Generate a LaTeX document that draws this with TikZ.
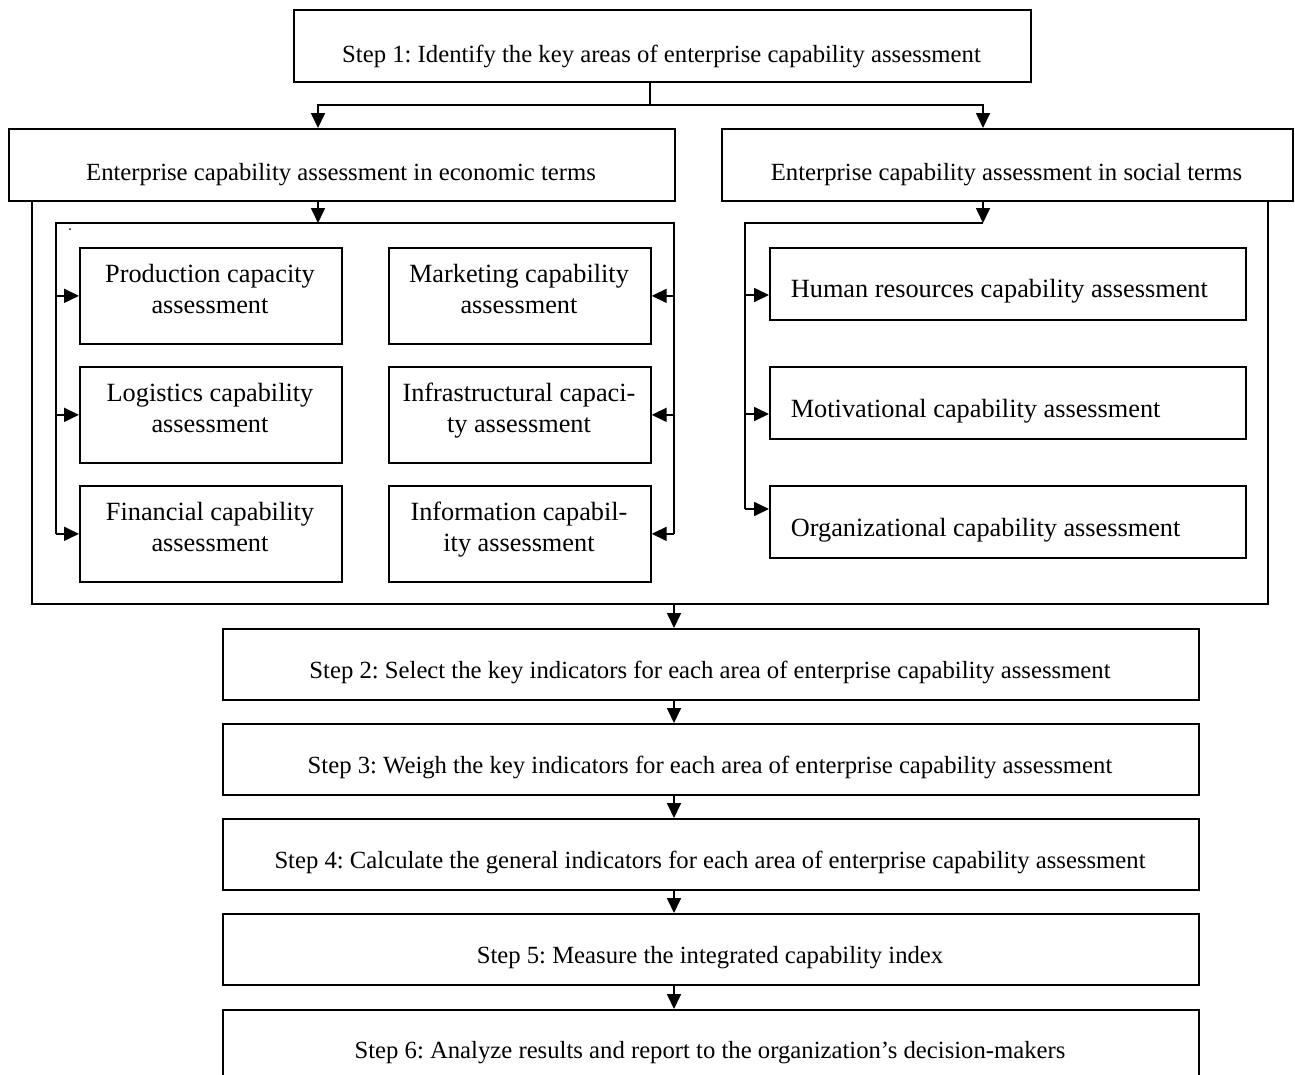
\documentclass[tikz,border=0pt]{standalone}
\usepackage{fontspec}
\setmainfont{Liberation Serif}
\usetikzlibrary{arrows.meta}
\frenchspacing
\begin{document}
\begin{tikzpicture}[x=1pt,y=-1pt,line width=1.7pt,
  box/.style={draw,rectangle,inner sep=0pt,anchor=north west},
  arr/.style={-{Triangle[length=15pt,width=14pt]}},
  hd/.style={font=\fontsize{24.7}{29}\selectfont,anchor=base,inner sep=0pt},
  bx/.style={font=\fontsize{26.3}{31}\selectfont,anchor=base,inner sep=0pt,align=center},
  sx/.style={font=\fontsize{26.3}{31}\selectfont,anchor=base west,inner sep=0pt}]
\useasboundingbox (0,0) rectangle (1295,1074);
\clip (0,0) rectangle (1295,1074);
% top level
\node[box,minimum width=737,minimum height=72] (s1) at (293,9) {};
\node[hd] (s1t) at (661.5,62) {Step 1: Identify the key areas of enterprise capability assessment};
\node[box,minimum width=666,minimum height=72] (econ) at (8,128) {};
\node[hd] (econt) at (341,180) {Enterprise capability assessment in economic terms};
\node[box,minimum width=571,minimum height=72] (soc) at (721,128) {};
\node[hd] (soct) at (1006.5,180) {Enterprise capability assessment in social terms};
% economic boxes
\node[box,minimum width=262,minimum height=96] (b11) at (79,247) {};
\node[box,minimum width=262,minimum height=96] (b21) at (79,366) {};
\node[box,minimum width=262,minimum height=96] (b31) at (79,485) {};
\node[box,minimum width=262,minimum height=96] (b12) at (388,247) {};
\node[box,minimum width=262,minimum height=96] (b22) at (388,366) {};
\node[box,minimum width=262,minimum height=96] (b32) at (388,485) {};
\node[bx] (b11t) at (210,313) {Production capacity\\assessment};
\node[bx] (b21t) at (210,432) {Logistics capability\\assessment};
\node[bx] (b31t) at (210,551) {Financial capability\\assessment};
\node[bx] (b12t) at (519,313) {Marketing capability\\assessment};
\node[bx] (b22t) at (519,432) {Infrastructural capaci-\\ty assessment};
\node[bx] (b32t) at (519,551) {Information capabil-\\ity assessment};
% social boxes
\node[box,minimum width=476,minimum height=72] (h1) at (769,247) {};
\node[box,minimum width=476,minimum height=72] (h2) at (769,366) {};
\node[box,minimum width=476,minimum height=72] (h3) at (769,485) {};
\node[sx] (h1t) at (790,297) {Human resources capability assessment};
\node[sx] (h2t) at (790,417) {Motivational capability assessment};
\node[sx] (h3t) at (790,536) {Organizational capability assessment};
% steps
\node[box,minimum width=976,minimum height=71] (st2) at (222,628) {};
\node[box,minimum width=976,minimum height=71] (st3) at (222,723) {};
\node[box,minimum width=976,minimum height=71] (st4) at (222,818) {};
\node[box,minimum width=976,minimum height=71] (st5) at (222,913) {};
\node[box,minimum width=976,minimum height=71] (st6) at (222,1009) {};
\node[hd] (st2t) at (710,678) {Step 2: Select the key indicators for each area of enterprise capability assessment};
\node[hd] (st3t) at (710,773) {Step 3: Weigh the key indicators for each area of enterprise capability assessment};
\node[hd] (st4t) at (710,868) {Step 4: Calculate the general indicators for each area of enterprise capability assessment};
\node[hd] (st5t) at (710,963) {Step 5: Measure the integrated capability index};
\node[hd] (st6t) at (710,1058) {Step 6: Analyze results and report to the organization’s decision-makers};
% coordinates
\coordinate (c1) at (650,105);
\coordinate (eX) at (318,223);
\coordinate (sX) at (983,223);
\coordinate (busL) at (56,223);
\coordinate (busR) at (674,223);
\coordinate (sbus) at (745,223);
\coordinate (oL) at (32,604);
\coordinate (oR) at (1268,604);
\coordinate (oM) at (674,604);
\coordinate (sa1) at (745,295);
\coordinate (sa2) at (745,414);
\coordinate (sa3) at (745,509);
% connectors top
\draw (s1.south -| c1) -- (c1);
\draw[arr] (c1) -| (econ.north -| eX);
\draw[arr] (c1) -| (soc.north -| sX);
% economic bus
\draw[arr] (econ.south -| eX) -- (eX);
\draw (b31.west -| busL) -- (busL) -- (busR) -- (b32.east -| busR);
\draw[arr] (b11.west -| busL) -- (b11.west);
\draw[arr] (b21.west -| busL) -- (b21.west);
\draw[arr] (b31.west -| busL) -- (b31.west);
\draw[arr] (b12.east -| busR) -- (b12.east);
\draw[arr] (b22.east -| busR) -- (b22.east);
\draw[arr] (b32.east -| busR) -- (b32.east);
\fill (70,229) circle (1pt);
% social bus
\draw[arr] (soc.south -| sX) -- (sX);
\draw (sX) -- (sbus) -- (sa3);
\draw[arr] (sa1) -- (sa1 -| h1.west);
\draw[arr] (sa2) -- (sa2 -| h2.west);
\draw[arr] (sa3) -- (sa3 -| h3.west);
% outer frame
\draw (econ.south -| oL) -- (oL) -- (oR) -- (soc.south -| oR);
% steps
\draw[arr] (oM) -- (st2.north -| oM);
\draw[arr] (st2.south -| oM) -- (st3.north -| oM);
\draw[arr] (st3.south -| oM) -- (st4.north -| oM);
\draw[arr] (st4.south -| oM) -- (st5.north -| oM);
\draw[arr] (st5.south -| oM) -- (st6.north -| oM);
\end{tikzpicture}
\end{document}
